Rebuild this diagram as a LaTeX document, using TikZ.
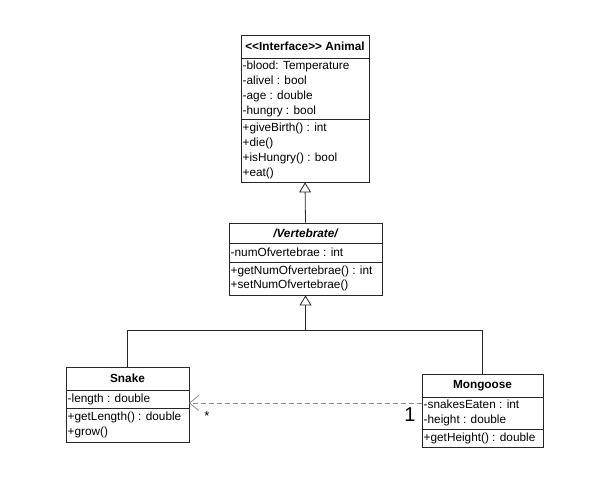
\documentclass[tikz,border=0pt]{standalone}
\usepackage{fontspec}
\setmainfont{Liberation Sans}
\usetikzlibrary{arrows.meta}
\begin{document}
\begin{tikzpicture}[x=1pt,y=1pt,
  classbox/.style={draw=black!85, line width=0.8pt, fill=white, inner sep=0pt},
  divider/.style={draw=black!85, line width=0.8pt},
  ctitle/.style={font=\fontsize{11.8}{14}\selectfont\bfseries, inner sep=0pt},
  members/.style={font=\fontsize{11.8}{15}\selectfont, align=left, anchor=west, inner xsep=1.5pt, inner ysep=0pt},
  inh/.style={draw=black!85, line width=0.8pt, -{Triangle[open, length=10pt, width=12pt, fill=white]}},
  gen/.style={draw=black!85, line width=0.8pt},
  dep/.style={draw=black!45, line width=0.8pt, dash pattern=on 5pt off 3pt, -{Straight Barb[length=9pt, width=15pt]}},
  mult/.style={inner sep=0pt}
]
\useasboundingbox (0,0) rectangle (593,-480);
% Animal
\node[classbox, minimum width=128pt, minimum height=147pt] (animal) at (305,-108.5) {};
\draw[divider] (241,-58) -- (369,-58);
\draw[divider] (241,-119) -- (369,-119);
\node[ctitle] (animalT) at (305,-46.5) {<{}<Interface>{}> Animal};
\node[members] (animalA) at (241,-88.5) {-blood: Temperature\\-alivel : bool\\-age : double\\-hungry : bool};
\node[members] (animalM) at (241,-150.5) {+giveBirth() : int\\+die()\\+isHungry() : bool\\+eat()};
% Vertebrate
\node[classbox, minimum width=153pt, minimum height=72pt] (vert) at (305.5,-259) {};
\draw[divider] (229,-243) -- (382,-243);
\draw[divider] (229,-262) -- (382,-262);
\node[ctitle, font=\fontsize{11.8}{14}\selectfont\bfseries\itshape] (vertT) at (305.5,-233) {/Vertebrate/};
\node[members] (vertA) at (229,-252.5) {-numOfvertebrae : int};
\node[members, font=\fontsize{11.8}{14}\selectfont] (vertM) at (229,-278.5) {+getNumOfvertebrae() : int\\+setNumOfvertebrae()};
% Snake
\node[classbox, minimum width=123pt, minimum height=75pt] (snake) at (127.5,-404.5) {};
\draw[divider] (66,-390) -- (189,-390);
\draw[divider] (66,-408) -- (189,-408);
\node[ctitle] (snakeT) at (127.5,-378.5) {Snake};
\node[members] (snakeA) at (66,-399) {-length : double};
\node[members] (snakeM) at (66,-425) {+getLength() : double\\+grow()};
% Mongoose
\node[classbox, minimum width=121pt, minimum height=73pt] (mong) at (482.5,-410.5) {};
\draw[divider] (422,-397) -- (543,-397);
\draw[divider] (422,-429) -- (543,-429);
\node[ctitle] (mongT) at (482.5,-385.5) {Mongoose};
\node[members] (mongA) at (422,-412.5) {-snakesEaten : int\\-height : double};
\node[members] (mongM) at (422,-438) {+getHeight() : double};
% Generalisation
\draw[inh] (vert.north) -- (animal.south);
\coordinate (junc) at (305.5,-330);
\draw[gen] (snake.north) |- (junc);
\draw[gen] (mong.north) |- (junc);
\draw[inh] (junc) -- (vert.south);
% Dependency
\coordinate (depS) at (422,-403);
\coordinate (depE) at (189,-403);
\draw[dep] (depS) -- (depE);
\node[mult, font=\fontsize{13}{13}\selectfont] (star) at (207,-416) {*};
\node[mult, font=\fontsize{20}{20}\selectfont] (one) at (410,-415) {1};
\end{tikzpicture}
\end{document}
